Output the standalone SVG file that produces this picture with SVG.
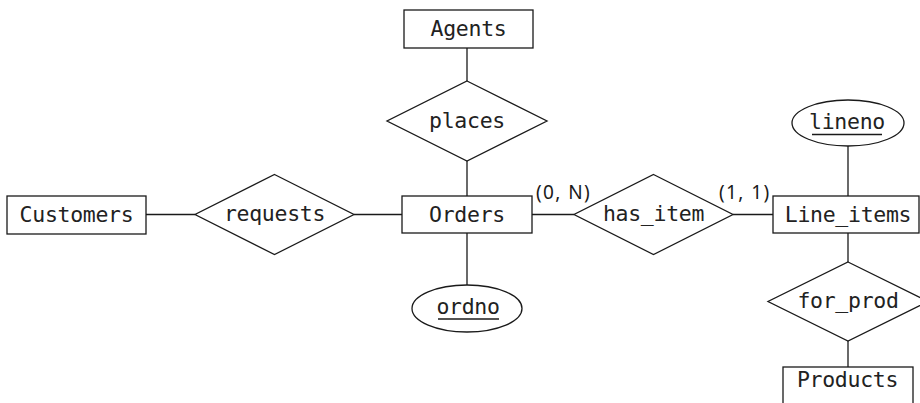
<svg xmlns="http://www.w3.org/2000/svg" width="920" height="403" viewBox="0 0 920 403">
  <style>
    .shape { fill: #ffffff; stroke: #1a1a1a; stroke-width: 1.3; }
    .line { stroke: #1a1a1a; stroke-width: 1.3; fill: none; }
    .lbl { font-family: "DejaVu Sans Mono", "Liberation Mono", monospace; font-size: 21.5px; letter-spacing: -0.3px; fill: #222222; text-anchor: middle; }
    .card { font-family: "Noto Sans", "Open Sans", "Liberation Sans", sans-serif; font-size: 19px; fill: #1a1a1a; letter-spacing: 1.4px; }
  </style>
  <rect width="920" height="403" fill="#ffffff"/>
  <g id="connectors">
    <line class="line" x1="467" y1="48" x2="467" y2="81"/>
    <line class="line" x1="467" y1="161" x2="467" y2="196"/>
    <line class="line" x1="467" y1="233" x2="467" y2="285"/>
    <line class="line" x1="146" y1="214.5" x2="195" y2="214.5"/>
    <line class="line" x1="354" y1="214.5" x2="402" y2="214.5"/>
    <line class="line" x1="532" y1="214.5" x2="574" y2="214.5"/>
    <line class="line" x1="733" y1="214.5" x2="773" y2="214.5"/>
    <line class="line" x1="848" y1="146" x2="848" y2="196"/>
    <line class="line" x1="848" y1="233" x2="848" y2="262"/>
    <line class="line" x1="848" y1="341" x2="848" y2="367"/>
  </g>
  <g id="agents">
    <rect class="shape" x="404" y="10" width="129" height="38"/>
    <text class="lbl" x="468.5" y="36">Agents</text>
  </g>
  <g id="places">
    <polygon class="shape" points="467,81 547,121 467,161 387,121"/>
    <text class="lbl" x="467" y="128">places</text>
  </g>
  <g id="customers">
    <rect class="shape" x="7" y="196" width="139" height="38"/>
    <text class="lbl" x="76.5" y="222">Customers</text>
  </g>
  <g id="requests">
    <polygon class="shape" points="274.5,174.5 354,214.5 274.5,254.5 195,214.5"/>
    <text class="lbl" x="274.5" y="221">requests</text>
  </g>
  <g id="orders">
    <rect class="shape" x="402" y="196" width="130" height="37"/>
    <text class="lbl" x="467" y="222">Orders</text>
  </g>
  <g id="ordno">
    <ellipse class="shape" cx="467" cy="308.5" rx="55" ry="23.5"/>
    <text class="lbl" x="468" y="313.5">ordno</text>
    <line class="line" x1="438" y1="319" x2="499" y2="319"/>
  </g>
  <g id="has_item">
    <polygon class="shape" points="653.5,174.5 733,214.5 653.5,254.5 574,214.5"/>
    <text class="lbl" x="653.5" y="221">has_item</text>
  </g>
  <g id="card_0n">
    <text class="card" x="536" y="199">(0, N)</text>
  </g>
  <g id="card_11">
    <text class="card" x="719" y="199">(1, 1)</text>
  </g>
  <g id="line_items">
    <rect class="shape" x="773" y="196" width="146" height="37"/>
    <text class="lbl" x="848" y="222">Line_items</text>
  </g>
  <g id="lineno">
    <ellipse class="shape" cx="848" cy="123" rx="56" ry="23"/>
    <text class="lbl" x="847" y="128.5">lineno</text>
    <line class="line" x1="812" y1="134.5" x2="882" y2="134.5"/>
  </g>
  <g id="for_prod">
    <polygon class="shape" points="848,262 928,301.5 848,341 768,301.5"/>
    <text class="lbl" x="848" y="307.5">for_prod</text>
  </g>
  <g id="products">
    <rect class="shape" x="783" y="367" width="130" height="40"/>
    <text class="lbl" x="847.5" y="387">Products</text>
  </g>
</svg>
